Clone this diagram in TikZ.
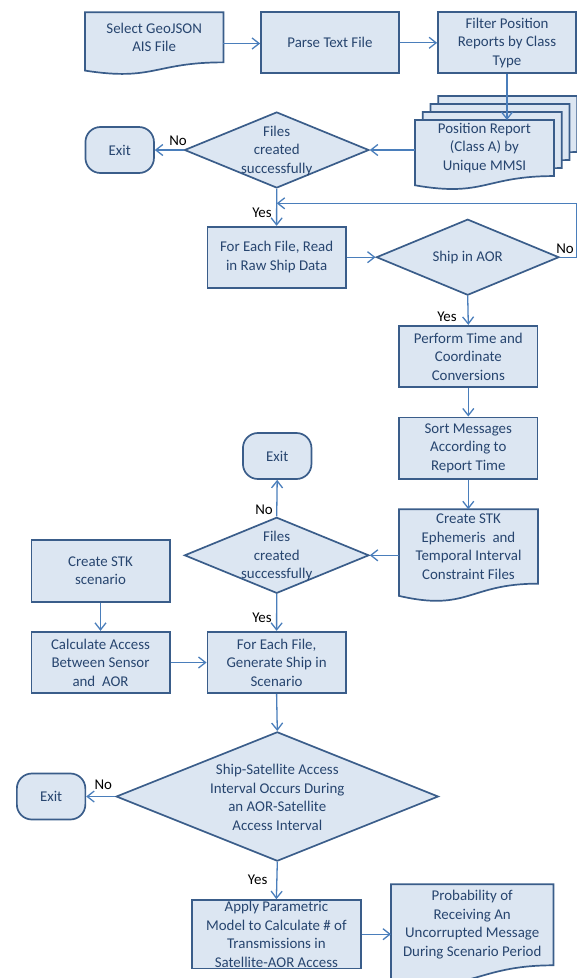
\documentclass[tikz,border=0pt]{standalone}
\usepackage{fontspec}
\setmainfont{Carlito}
\usetikzlibrary{arrows.meta,calc,shapes.geometric}
\definecolor{boxfill}{HTML}{DCE6F2}
\definecolor{boxline}{HTML}{3A5D8A}
\definecolor{arrowc}{HTML}{4A7EBB}
\definecolor{txtc}{HTML}{27456F}
\tikzset{
  txtfont/.style={font=\fontsize{14.9}{18.5}\selectfont},
  base/.style={draw=boxline, fill=boxfill, line width=1.7pt, text=txtc, align=center, inner sep=0pt, txtfont},
  procbox/.style={base, rectangle},
  exitbox/.style={base, rectangle, rounded corners=15pt, minimum width=68.5pt, minimum height=46pt},
  decision/.style={base, diamond},
  dtext/.style={text=txtc, align=center, inner sep=0pt, txtfont},
  docframe/.style={inner sep=0pt},
  docline/.style={draw=boxline, fill=boxfill, line width=1.7pt},
  lbl/.style={text=black, inner sep=0pt, txtfont},
  arr/.style={draw=arrowc, line width=1.3pt, -{Straight Barb[length=7pt,width=11pt]}},
  arrline/.style={draw=arrowc, line width=1.3pt}
}
\newcommand{\docshape}[6]{%
  \node[docframe, minimum width=#4pt, minimum height=#5pt, anchor=north west] (#1) at (#2,#3) {};
  \filldraw[docline] (#1.north west) -- (#1.north east) -- ($(#1.north east)!0.802!(#1.south east)$)
    .. controls ($(#1.north)!0.802!(#1.south)$) and ($(#1.north)!1.1075!(#1.south)$) ..
    ($(#1.north west)!0.934!(#1.south west)$) -- cycle;
  \node[dtext] (#1-t) at ($(#1.north)!0.401!(#1.south)$) {#6};
}
\begin{document}
\begin{tikzpicture}[x=1pt,y=-1pt]
\useasboundingbox (0,0) rectangle (577,978);

% top row
\docshape{sel}{85}{12.3}{138}{62}{Select GeoJSON\\AIS File}
\node[procbox, minimum width=138pt, minimum height=61pt] (parse) at (330,42.8) {Parse Text File};
\node[procbox, minimum width=138pt, minimum height=61pt] (filter) at (507,42.8) {Filter Position\\Reports by Class\\Type};

% stacked documents
\docshape{pos3}{438.2}{96}{138.5}{69.5}{}
\docshape{pos2}{430.5}{104}{138.5}{69.5}{}
\docshape{pos1}{422.8}{112}{138.5}{69.5}{}
\docshape{pos}{415}{120}{138.5}{69.5}{Position Report\\(Class A) by\\Unique MMSI}

% first decision
\node[decision, minimum width=184.5pt, minimum height=76pt] (d1) at (276.7,150) {};
\node[dtext] (d1t) at (276.7,151) {Files\\created\\successfully};
\node[exitbox] (exit1) at (119.7,150) {Exit};

% read loop
\node[procbox, minimum width=138.4pt, minimum height=61pt] (read) at (276.6,257.2) {For Each File, Read\\in Raw Ship Data};
\node[decision, minimum width=182.6pt, minimum height=76pt] (ship) at (467.7,257.2) {};
\node[dtext] (shipt) at (467.7,257.2) {Ship in AOR};
\coordinate (j1) at (276.7,203.3);

\node[procbox, minimum width=138.6pt, minimum height=61.6pt] (perf) at (468.3,356.5) {Perform Time and\\Coordinate\\Conversions};
\node[procbox, minimum width=138.6pt, minimum height=61.7pt] (sort) at (468.3,448.2) {Sort Messages\\According to\\Report Time};
\docshape{eph}{399}{509.3}{138.6}{92.3}{Create STK\\Ephemeris \ and\\Temporal Interval\\Constraint Files}

% second decision
\node[decision, minimum width=184.5pt, minimum height=76pt] (d2) at (276.7,555.3) {};
\node[dtext] (d2t) at (276.7,556.3) {Files\\created\\successfully};
\node[exitbox] (exit2) at (277.2,456) {Exit};

\node[procbox, minimum width=138.3pt, minimum height=61.7pt] (stk) at (100.5,570.8) {Create STK\\scenario};
\node[procbox, minimum width=138.3pt, minimum height=61.6pt] (calc) at (100.5,662.5) {Calculate Access\\Between Sensor\\and \ AOR};
\node[procbox, minimum width=138.4pt, minimum height=61.6pt] (gen) at (276.6,662.5) {For Each File,\\Generate Ship in\\Scenario};

% third decision
\node[decision, minimum width=322.2pt, minimum height=129.3pt] (d3) at (277.3,796.5) {};
\node[dtext] (d3t) at (277.3,797.5) {Ship-Satellite Access\\Interval Occurs During\\an AOR-Satellite\\Access Interval};
\node[exitbox] (exit3) at (51.1,796.5) {Exit};

\node[procbox, minimum width=169pt, minimum height=68.3pt] (apply) at (276.4,934.2) {Apply Parametric\\Model to Calculate \# of\\Transmissions in\\Satellite-AOR Access};
\docshape{prob}{391}{884.3}{162}{100.6}{Probability of\\Receiving An\\Uncorrupted Message\\During Scenario Period}

% connectors
\draw[arr] (sel.east) -- (sel.east -| parse.west);
\draw[arr] (parse.east) -- (filter.west);
\draw[arr] (filter.south) -- (filter.south |- pos.north);
\draw[arr] (pos.west |- d1.east) -- (d1.east);
\draw[arr] (d1.west) -- (exit1.east);
\draw[arr] (d1.south) -- (read.north);
\draw[arr] (read.east) -- (ship.west);
\draw[arr] (ship.east) -- ++(16.6,0) |- (j1);
\draw[arr] (ship.south) -- (perf.north);
\draw[arr] (perf.south) -- (sort.north);
\draw[arr] (sort.south) -- (eph.north -| sort.south);
\draw[arr] (eph.west |- d2.east) -- (d2.east);
\draw[arr] (d2.north) -- (exit2.south);
\draw[arr] (d2.south) -- (gen.north);
\draw[arr] (stk.south) -- (calc.north);
\draw[arr] (calc.east) -- (gen.west);
\draw[arr] (gen.south) -- (d3.north);
\draw[arr] (d3.west) -- (exit3.east);
\draw[arr] (d3.south) -- (apply.north);
\draw[arr] (apply.east) -- (apply.east -| prob.west);

% labels
\node[lbl] (no1) at (178,140.7) {No};
\node[lbl] (yes1) at (262,212.3) {Yes};
\node[lbl] (no2) at (565,249) {No};
\node[lbl] (yes2) at (447,316.7) {Yes};
\node[lbl] (no3) at (264,509.3) {No};
\node[lbl] (yes3) at (262,617.3) {Yes};
\node[lbl] (no4) at (103.3,784.3) {No};
\node[lbl] (yes4) at (257.6,879.3) {Yes};
\end{tikzpicture}
\end{document}
